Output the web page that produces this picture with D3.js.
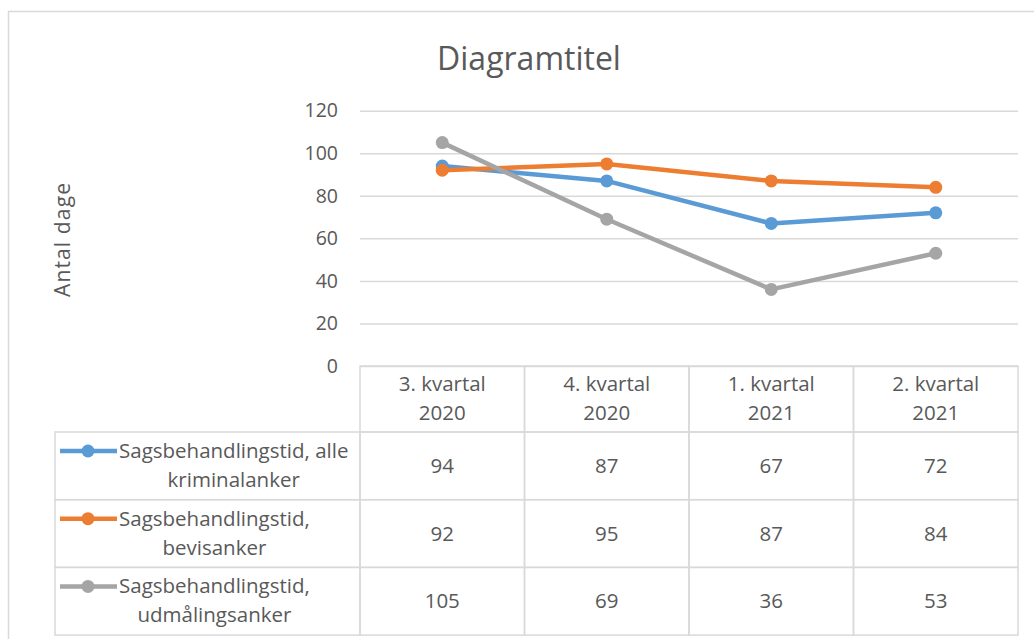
<!DOCTYPE html>
<html>
<head>
<meta charset="utf-8">
<script src="https://cdn.jsdelivr.net/npm/d3@7"></script>
<style>
  body { margin: 0; background: #fff; }
  text { font-family: "Open Sans", sans-serif; fill: #595959; }
</style>
</head>
<body>
<div id="chart"></div>
<script>
// data
const kvartaler = ["3. kvartal 2020", "4. kvartal 2020", "1. kvartal 2021", "2. kvartal 2021"];
const kvartalLinjer = [["3. kvartal", "2020"], ["4. kvartal", "2020"], ["1. kvartal", "2021"], ["2. kvartal", "2021"]];
const serieNavne = ["Sagsbehandlingstid, alle kriminalanker", "Sagsbehandlingstid, bevisanker", "Sagsbehandlingstid, udmålingsanker"];
const serieLinjer = [["Sagsbehandlingstid, alle", "kriminalanker"], ["Sagsbehandlingstid,", "bevisanker"], ["Sagsbehandlingstid,", "udmålingsanker"]];
const alleKriminalanker = [94, 87, 67, 72];
const bevisanker = [92, 95, 87, 84];
const udmaalingsanker = [105, 69, 36, 53];
const yTicks = [0, 20, 40, 60, 80, 100, 120];
const farver = ["#5B9BD5", "#ED7D31", "#A5A5A5"];

const serier = [alleKriminalanker, bevisanker, udmaalingsanker];

const W = 1034, H = 639;
const plot = { left: 360, right: 1018, top: 110.7, bottom: 366 };
const tabel = { left: 55, headerBund: 432, rowH: 67.7 };

const svg = d3.select("#chart").append("svg")
  .attr("width", W).attr("height", H);

// ydre ramme
svg.append("rect")
  .attr("x", 8.5).attr("y", 11.5)
  .attr("width", W + 10).attr("height", H + 10)
  .attr("fill", "none").attr("stroke", "#d9d9d9").attr("stroke-width", 1.5);

// titel
svg.append("text")
  .attr("x", 529).attr("y", 70)
  .attr("text-anchor", "middle")
  .style("font-size", "32px")
  .text("Diagramtitel");

const x = d3.scaleBand().domain(kvartaler).range([plot.left, plot.right]);
const y = d3.scaleLinear().domain([0, 120]).range([plot.bottom, plot.top]);

// gitterlinjer + y-akse
const yAxis = svg.append("g")
  .attr("transform", `translate(${plot.left},0)`)
  .call(d3.axisLeft(y).tickValues(yTicks).tickSize(-(plot.right - plot.left)).tickPadding(22));
yAxis.select(".domain").remove();
yAxis.selectAll(".tick line").attr("stroke", "#d9d9d9").attr("stroke-width", 1.5);
yAxis.selectAll(".tick text")
  .attr("fill", "#595959")
  .style("font-size", "19.5px")
  .style("font-family", "'Open Sans', sans-serif");

// y-aksetitel
svg.append("text")
  .attr("transform", `translate(70,240) rotate(-90)`)
  .attr("text-anchor", "middle")
  .style("font-size", "21px")
  .attr("textLength", 114)
  .attr("lengthAdjust", "spacing")
  .text("Antal dage");

// linjer
const line = d3.line()
  .x((d, i) => x(kvartaler[i]) + x.bandwidth() / 2)
  .y(d => y(d));

serier.forEach((s, k) => {
  svg.append("path")
    .datum(s)
    .attr("fill", "none")
    .attr("stroke", farver[k])
    .attr("stroke-width", 4.5)
    .attr("stroke-linejoin", "round")
    .attr("d", line);
  svg.selectAll(null)
    .data(s)
    .enter()
    .append("circle")
    .attr("cx", (d, i) => x(kvartaler[i]) + x.bandwidth() / 2)
    .attr("cy", d => y(d))
    .attr("r", 6.5)
    .attr("fill", farver[k]);
});

// datatabel
const gridFarve = "#d9d9d9";
const tg = svg.append("g");

// header celler
kvartaler.forEach((kv, i) => {
  tg.append("rect")
    .attr("x", x(kv)).attr("y", plot.bottom)
    .attr("width", x.bandwidth()).attr("height", tabel.headerBund - plot.bottom)
    .attr("fill", "none").attr("stroke", gridFarve).attr("stroke-width", 1.5);
  kvartalLinjer[i].forEach((t, j) => {
    tg.append("text")
      .attr("x", x(kv) + x.bandwidth() / 2)
      .attr("y", 391 + j * 29)
      .attr("text-anchor", "middle")
      .style("font-size", "20.5px")
      .text(t);
  });
});

serier.forEach((s, k) => {
  const top = tabel.headerBund + k * tabel.rowH;
  // legendecelle
  tg.append("rect")
    .attr("x", tabel.left).attr("y", top)
    .attr("width", plot.left - tabel.left).attr("height", tabel.rowH)
    .attr("fill", "none").attr("stroke", gridFarve).attr("stroke-width", 1.5);
  const symY = top + 19;
  tg.append("line")
    .attr("x1", 60).attr("x2", 117).attr("y1", symY).attr("y2", symY)
    .attr("stroke", farver[k]).attr("stroke-width", 4.5);
  tg.append("circle")
    .attr("cx", 88).attr("cy", symY).attr("r", 6.5).attr("fill", farver[k]);

  const blok = tg.append("g");
  const tekster = serieLinjer[k].map((t, j) => blok.append("text")
    .attr("y", top + 26 + j * 29)
    .attr("text-anchor", "middle")
    .style("font-size", "20.5px")
    .text(t));
  const bredde = d3.max(tekster, n => n.node().getComputedTextLength());
  tekster.forEach(n => n.attr("x", 119 + bredde / 2));

  // værdiceller
  s.forEach((v, i) => {
    tg.append("rect")
      .attr("x", x(kvartaler[i])).attr("y", top)
      .attr("width", x.bandwidth()).attr("height", tabel.rowH)
      .attr("fill", "none").attr("stroke", gridFarve).attr("stroke-width", 1.5);
    tg.append("text")
      .attr("x", x(kvartaler[i]) + x.bandwidth() / 2)
      .attr("y", top + tabel.rowH / 2 + 7)
      .attr("text-anchor", "middle")
      .style("font-size", "20.5px")
      .text(v);
  });
});
</script>
</body>
</html>
